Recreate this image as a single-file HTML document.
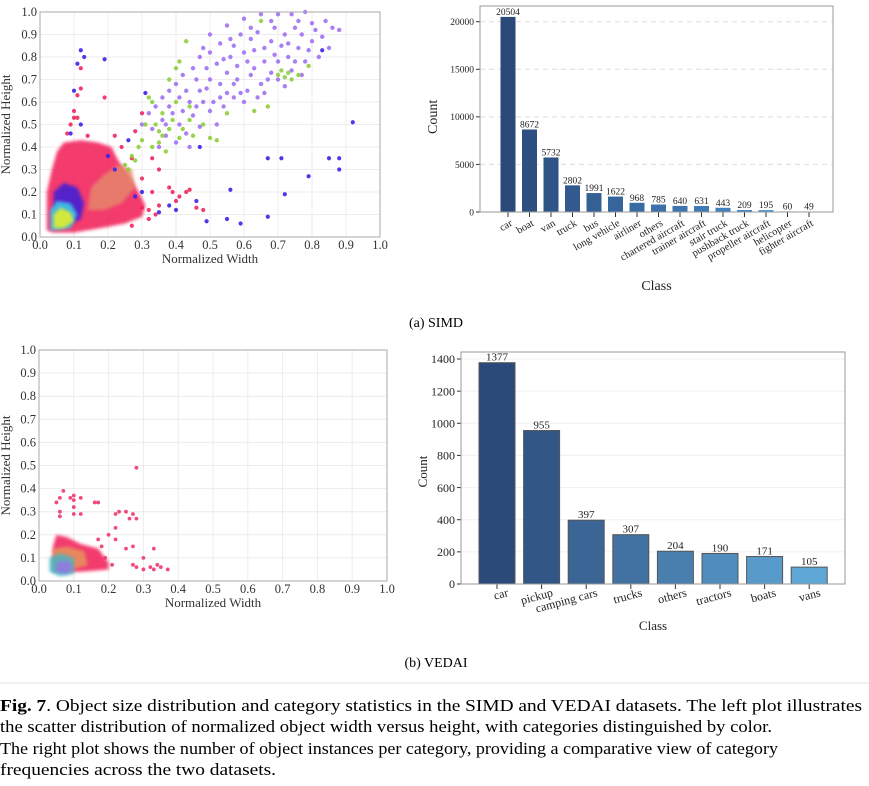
<!DOCTYPE html>
<html><head><meta charset="utf-8"><style>
html,body{margin:0;padding:0;background:#fff;}
svg{display:block;font-family:"Liberation Serif",serif;}
</style></head><body>
<svg id="fig" width="869" height="786" viewBox="0 0 869 786" xmlns="http://www.w3.org/2000/svg">
<defs><filter id="soft" x="-20%" y="-20%" width="140%" height="140%"><feGaussianBlur stdDeviation="1.6"/></filter></defs>
<g id="g-sc1"></g>
<g id="g-bar1"></g>
<g id="g-sc2"></g>
<g id="g-bar2"></g>
<text x="436" y="327" text-anchor="middle" font-size="14">(a) SIMD</text>
<text x="436" y="667" text-anchor="middle" font-size="14">(b) VEDAI</text>
<line x1="0" y1="683" x2="869" y2="683" stroke="#e2e2e2" stroke-width="1"/>
<g font-size="16.5">
<text x="0" y="711" textLength="862" lengthAdjust="spacingAndGlyphs"><tspan font-weight="bold">Fig. 7</tspan>.  Object size distribution and category statistics in the SIMD and VEDAI datasets. The left plot illustrates</text>
<text x="0" y="732" textLength="772" lengthAdjust="spacingAndGlyphs">the scatter distribution of normalized object width versus height, with categories distinguished by color.</text>
<text x="0" y="754" textLength="778" lengthAdjust="spacingAndGlyphs">The right plot shows the number of object instances per category, providing a comparative view of category</text>
<text x="0" y="775" textLength="276" lengthAdjust="spacingAndGlyphs">frequencies across the two datasets.</text>
</g>
</svg>
<script>
// ---------- SIMD bar data ----------
const simdClasses = ["car","boat","van","truck","bus","long vehicle","airliner","others","chartered aircraft","trainer aircraft","stair truck","pushback truck","propeller aircraft","helicopter","fighter aircraft"];
const simdCounts = [20504,8672,5732,2802,1991,1622,968,785,640,631,443,209,195,60,49];
const simdTicks = [0,5000,10000,15000,20000];
// ---------- VEDAI bar data ----------
const vedaiClasses = ["car","pickup","camping cars","trucks","others","tractors","boats","vans"];
const vedaiCounts = [1377,955,397,307,204,190,171,105];
const vedaiTicks = [0,200,400,600,800,1000,1200,1400];
// ---------- scatter data (normalized width, height) ----------
const scatterTicks = [0,0.1,0.2,0.3,0.4,0.5,0.6,0.7,0.8,0.9,1.0];
const simdRedCore = [[0.02,0.03],[0.02,0.2],[0.035,0.3],[0.05,0.38],[0.07,0.42],[0.12,0.43],[0.17,0.42],[0.21,0.4],[0.23,0.34],[0.26,0.28],[0.29,0.2],[0.31,0.14],[0.3,0.09],[0.25,0.06],[0.18,0.04],[0.1,0.02],[0.04,0.02]];
const simdOrangeCore = [[0.14,0.12],[0.15,0.22],[0.19,0.28],[0.23,0.32],[0.27,0.3],[0.28,0.22],[0.24,0.15],[0.19,0.12]];
const simdBlueCore = [[0.04,0.06],[0.04,0.2],[0.07,0.24],[0.11,0.22],[0.13,0.15],[0.12,0.08],[0.08,0.05]];
const simdCyanCore = [[0.03,0.03],[0.03,0.12],[0.05,0.16],[0.09,0.15],[0.11,0.1],[0.09,0.04],[0.05,0.03]];
const simdYellowCore = [[0.04,0.04],[0.04,0.1],[0.06,0.13],[0.09,0.11],[0.1,0.07],[0.07,0.04]];
const simdPurple = [[0.5,0.9],[0.55,0.94],[0.6,0.97],[0.65,0.99],[0.7,0.99],[0.74,0.99],[0.78,1.0],[0.8,0.95],[0.83,0.89],[0.86,0.93],[0.8,0.87],[0.75,0.93],[0.72,0.9],[0.68,0.87],[0.63,0.83],[0.6,0.82],[0.57,0.85],[0.53,0.86],[0.5,0.82],[0.47,0.8],[0.45,0.75],[0.42,0.72],[0.4,0.68],[0.38,0.65],[0.36,0.62],[0.34,0.58],[0.32,0.55],[0.3,0.5],[0.33,0.48],[0.36,0.52],[0.39,0.55],[0.41,0.5],[0.44,0.6],[0.47,0.65],[0.5,0.7],[0.53,0.68],[0.55,0.73],[0.58,0.76],[0.62,0.72],[0.65,0.68],[0.68,0.73],[0.7,0.78],[0.73,0.8],[0.76,0.84],[0.78,0.78],[0.66,0.78],[0.61,0.65],[0.57,0.62],[0.54,0.58],[0.5,0.56],[0.48,0.6],[0.45,0.54],[0.43,0.46],[0.4,0.42],[0.37,0.45],[0.35,0.4],[0.52,0.77],[0.56,0.8],[0.64,0.91],[0.69,0.93],[0.82,0.8],[0.77,0.72],[0.72,0.67],[0.6,0.6],[0.64,0.62],[0.58,0.7],[0.49,0.75],[0.46,0.7],[0.43,0.65],[0.85,0.84],[0.88,0.92],[0.66,0.84],[0.62,0.88],[0.59,0.9],[0.71,0.85],[0.74,0.74],[0.55,0.64],[0.52,0.5],[0.47,0.49],[0.44,0.4],[0.38,0.58],[0.42,0.56],[0.61,0.78],[0.67,0.7],[0.63,0.75],[0.69,0.81],[0.73,0.86],[0.77,0.9],[0.81,0.92],[0.84,0.96],[0.57,0.68],[0.53,0.62],[0.49,0.66],[0.46,0.58],[0.41,0.62],[0.37,0.5],[0.51,0.6],[0.59,0.64],[0.66,0.64],[0.7,0.7],[0.75,0.78],[0.79,0.83],[0.54,0.79],[0.48,0.84],[0.56,0.88],[0.62,0.93],[0.68,0.96],[0.76,0.96]];
const simdGreen = [[0.31,0.5],[0.33,0.6],[0.36,0.55],[0.38,0.7],[0.4,0.75],[0.41,0.78],[0.43,0.87],[0.39,0.52],[0.42,0.48],[0.45,0.45],[0.35,0.42],[0.37,0.38],[0.29,0.4],[0.27,0.36],[0.25,0.32],[0.4,0.6],[0.44,0.58],[0.48,0.5],[0.5,0.44],[0.52,0.43],[0.55,0.55],[0.7,0.72],[0.71,0.74],[0.72,0.71],[0.73,0.73],[0.74,0.7],[0.76,0.72],[0.79,0.76],[0.67,0.58],[0.65,0.96],[0.63,0.56],[0.32,0.62],[0.34,0.5],[0.36,0.45],[0.3,0.43],[0.38,0.48],[0.41,0.44],[0.44,0.52],[0.33,0.4],[0.28,0.34],[0.26,0.3],[0.35,0.47]];
const simdBlue = [[0.12,0.83],[0.13,0.8],[0.19,0.79],[0.11,0.77],[0.1,0.65],[0.12,0.5],[0.09,0.46],[0.67,0.35],[0.71,0.35],[0.85,0.35],[0.88,0.35],[0.88,0.3],[0.79,0.27],[0.72,0.19],[0.56,0.21],[0.67,0.09],[0.59,0.06],[0.55,0.08],[0.49,0.07],[0.92,0.51],[0.83,0.83],[0.46,0.16],[0.4,0.12],[0.35,0.11],[0.38,0.14],[0.3,0.2],[0.28,0.18],[0.22,0.3],[0.2,0.36],[0.26,0.43],[0.31,0.64],[0.47,0.4]];
const simdRed = [[0.12,0.75],[0.12,0.66],[0.11,0.63],[0.19,0.62],[0.1,0.56],[0.1,0.53],[0.11,0.53],[0.09,0.5],[0.28,0.47],[0.3,0.55],[0.33,0.35],[0.35,0.3],[0.38,0.22],[0.39,0.2],[0.4,0.16],[0.41,0.18],[0.43,0.2],[0.44,0.21],[0.46,0.13],[0.48,0.12],[0.35,0.14],[0.32,0.12],[0.3,0.13],[0.08,0.46],[0.14,0.45],[0.22,0.45],[0.24,0.4],[0.27,0.35],[0.3,0.26],[0.33,0.2],[0.32,0.08],[0.34,0.1],[0.27,0.05]];
const vedaiRedCore = [[0.04,0.04],[0.04,0.15],[0.05,0.2],[0.08,0.19],[0.12,0.16],[0.17,0.14],[0.2,0.08],[0.2,0.05],[0.12,0.04]];
const vedaiOrangeCore = [[0.04,0.05],[0.04,0.14],[0.08,0.15],[0.13,0.13],[0.14,0.07],[0.08,0.04]];
const vedaiCyanCore = [[0.03,0.04],[0.03,0.1],[0.06,0.12],[0.1,0.1],[0.1,0.03],[0.06,0.02]];
const vedaiPurpleCore = [[0.05,0.04],[0.05,0.08],[0.08,0.09],[0.1,0.06],[0.08,0.03]];
const vedaiRed = [[0.07,0.39],[0.09,0.36],[0.1,0.37],[0.1,0.35],[0.12,0.36],[0.06,0.36],[0.05,0.34],[0.06,0.3],[0.06,0.28],[0.1,0.32],[0.12,0.29],[0.1,0.29],[0.16,0.34],[0.17,0.34],[0.28,0.49],[0.22,0.29],[0.23,0.3],[0.25,0.3],[0.27,0.29],[0.28,0.27],[0.26,0.27],[0.22,0.23],[0.2,0.2],[0.22,0.18],[0.25,0.14],[0.27,0.15],[0.33,0.14],[0.3,0.1],[0.27,0.07],[0.28,0.06],[0.3,0.05],[0.32,0.06],[0.34,0.07],[0.35,0.06],[0.37,0.05],[0.33,0.05],[0.21,0.07],[0.19,0.1],[0.17,0.18],[0.18,0.15]];

const NS = "http://www.w3.org/2000/svg";
function mk(tag, attrs, parent){ const e=document.createElementNS(NS,tag); for(const k in attrs) e.setAttribute(k,attrs[k]); parent.appendChild(e); return e; }

function scatter(g, box, layers, name){
  const sx = v => box.x0 + v*(box.x1-box.x0);
  const sy = v => box.y0 - v*(box.y0-box.y1);
  scatterTicks.forEach(t=>{
    const gl=mk('line',{x1:sx(t),x2:sx(t),y1:box.y1,y2:box.y0,stroke:'#ececec','stroke-width':1},g);
    
    
    const gh=mk('line',{x1:box.x0,x2:box.x1,y1:sy(t),y2:sy(t),stroke:'#ececec','stroke-width':1},g);
    
    
    const tx=mk('text',{x:sx(t),y:box.y0+12,'text-anchor':'middle','font-size':12.5,fill:'#333'},g); tx.textContent=t.toFixed(1);
    
    
    const ty=mk('text',{x:box.x0-3,y:sy(t)+4,'text-anchor':'end','font-size':12.5,fill:'#333'},g); ty.textContent=t.toFixed(1);
    
    
  });
  layers.forEach(L=>{
    if(L.hull){
      const p=mk('polygon',{points:L.data.map(d=>sx(d[0])+','+sy(d[1])).join(' '),fill:L.color,opacity:L.op||0.9,filter:'url(#soft)'},g);
      
      
    } else {
      L.data.forEach(d=>{
        const c=mk('circle',{cx:sx(d[0]),cy:sy(d[1]),r:L.r||2.1,fill:L.color,opacity:0.9},g);
        
        
      });
    }
  });
  const fr=mk('rect',{x:box.x0,y:box.y1,width:box.x1-box.x0,height:box.y0-box.y1,fill:'none',stroke:'#aaa','stroke-width':1},g);
  
  
  const xl=mk('text',{x:(box.x0+box.x1)/2,y:box.y0+26,'text-anchor':'middle','font-size':13,fill:'#333'},g); xl.textContent='Normalized Width';
  
  
  const yc=(box.y0+box.y1)/2;
  const yl=mk('text',{x:10,y:yc,'text-anchor':'middle','font-size':13,fill:'#333',transform:`rotate(-90 10 ${yc})`},g); yl.textContent='Normalized Height';
  
  
}

scatter(document.getElementById('g-sc1'),{x0:40,x1:380,y0:237,y1:12},[
  {hull:true,data:simdRedCore,color:'#f2275e'},
  {hull:true,data:simdOrangeCore,color:'#e58a6a',op:0.8},
  {data:simdRed,color:'#f2275e',r:2.1},
  {data:simdPurple,color:'#a072f2',r:2.2},
  {data:simdGreen,color:'#8fce3c',r:2.2},
  {hull:true,data:simdBlueCore,color:'#2f1fe0',op:0.8},
  {hull:true,data:simdCyanCore,color:'#3cc8e8',op:0.9},
  {hull:true,data:simdYellowCore,color:'#e4ee2a',op:0.9},
  {data:simdBlue,color:'#3b22e8',r:2.1}
],'simd');

scatter(document.getElementById('g-sc2'),{x0:39,x1:387,y0:581,y1:350},[
  {hull:true,data:vedaiRedCore,color:'#f2275e'},
  {data:vedaiRed,color:'#f2366a',r:1.9},
  {hull:true,data:vedaiOrangeCore,color:'#e59a5a',op:0.8},
  {hull:true,data:vedaiCyanCore,color:'#3cb8c8',op:0.8},
  {hull:true,data:vedaiPurpleCore,color:'#9a72e8',op:0.8}
],'vedai');

function bars(g, cfg, classes, counts, ticks){
  const {x0,x1,y0,y1,max,step,bw,first,fs,rot,dashed,lblFs,lblDy,titleY,countX} = cfg;
  const sy = v => y0 - v/max*(y0-y1);
  const sx = i => first + i*step;
  ticks.forEach(t=>{
    if(t>0){
      const gl=mk('line',{x1:x0,x2:x1,y1:sy(t),y2:sy(t),stroke:dashed?'#ddd':'#f0f0f0','stroke-width':1,'stroke-dasharray':dashed?'5,4':'none'},g);
      
      
    }
    const tk=mk('line',{x1:x0-4,x2:x0,y1:sy(t),y2:sy(t),stroke:'#333','stroke-width':1},g);
    
    
    const tl=mk('text',{x:x0-6,y:sy(t)+fs*0.35,'text-anchor':'end','font-size':fs,fill:'#222'},g); tl.textContent=t;
    
    
  });
  const n=counts.length;
  counts.forEach((v,i)=>{
    const f=i/(n-1);
    const c0=[43,74,122], c1=cfg.endColor;
    const col=`rgb(${c0.map((a,k)=>Math.round(a+(c1[k]-a)*f)).join(',')})`;
    const r=mk('rect',{x:sx(i)-bw/2,y:sy(v),width:bw,height:y0-sy(v),fill:col,stroke:cfg.barStroke||'none','stroke-width':1},g);
    
    
    const vt=mk('text',{x:sx(i),y:sy(v)-2,'text-anchor':'middle','font-size':lblFs,fill:'#222'},g); vt.textContent=v;
    
    
    const tk=mk('line',{x1:sx(i),x2:sx(i),y1:y0,y2:y0+5,stroke:'#333','stroke-width':1},g);
    
    
    const lx=sx(i)+cfg.lblDx, ly=y0+lblDy;
    const ct=mk('text',{x:lx,y:ly,'text-anchor':'end','font-size':cfg.catFs,fill:'#222',transform:`rotate(${rot} ${lx} ${ly})`},g); ct.textContent=classes[i];
    
    
  });
  const fr=mk('rect',{x:x0,y:y1-(cfg.padTop||0),width:x1-x0,height:y0-y1+(cfg.padTop||0),fill:'none',stroke:'#999','stroke-width':1},g);
  
  
  const xt=mk('text',{x:(x0+x1)/2,y:titleY,'text-anchor':'middle','font-size':cfg.titleFs,fill:'#222'},g); xt.textContent='Class';
  
  
  const yc=(y0+y1)/2;
  const yt=mk('text',{x:countX,y:yc,'text-anchor':'middle','font-size':cfg.titleFs,fill:'#222',transform:`rotate(-90 ${countX} ${yc})`},g); yt.textContent='Count';
  
  
}

bars(document.getElementById('g-bar1'),{x0:480,x1:833,y0:212,y1:21.7,max:20000,step:21.5,first:508,bw:15,fs:9.5,rot:-30,dashed:true,lblFs:9.5,lblDy:13,lblDx:5,catFs:10.5,titleY:290,titleFs:14,countX:437,padTop:15.7,endColor:[74,150,214]},simdClasses,simdCounts,simdTicks);

bars(document.getElementById('g-bar2'),{x0:461,x1:845,y0:584,y1:359,max:1400,step:44.6,first:497,bw:36,fs:12,rot:-15,dashed:false,lblFs:11,lblDy:12,lblDx:12,catFs:12,titleY:630,titleFs:13,countX:427,padTop:7,endColor:[95,167,214],barStroke:'#555'},vedaiClasses,vedaiCounts,vedaiTicks);
</script>
</body></html>
